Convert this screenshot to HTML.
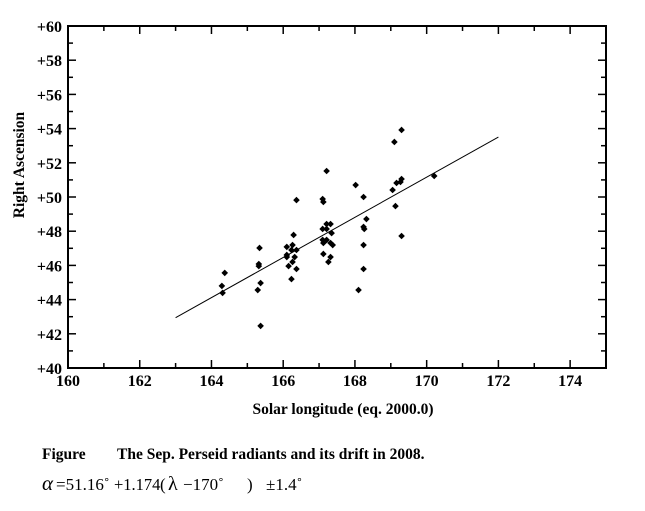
<!DOCTYPE html>
<html><head><meta charset="utf-8"><style>
body{margin:0;background:#fff;width:645px;height:506px;overflow:hidden;font-family:"Liberation Serif",serif}
svg text{font-family:"Liberation Serif",serif;font-weight:bold}
</style></head><body>
<svg id="chart" width="645" height="506" xmlns="http://www.w3.org/2000/svg">
<g id="ticks"></g>
<g id="marks"></g>
<rect x="68" y="26" width="538" height="342" fill="none" stroke="#000" stroke-width="2"/>
<text transform="translate(24,165) rotate(-90)" text-anchor="middle" font-size="15.5">Right Ascension</text>
<text x="343" y="414" text-anchor="middle" font-size="15.5">Solar longitude (eq. 2000.0)</text>
<text x="42" y="459" font-size="15.5">Figure</text>
<text x="117" y="459" font-size="15.5">The Sep. Perseid radiants and its drift in 2008.</text>
<g font-size="17" style="font-weight:normal">
<text x="42" y="490" style="font-weight:normal" font-size="21" font-style="italic">α</text>
<text x="56" y="490" style="font-weight:normal" font-size="17">=51.16˚</text>
<text x="114" y="490" style="font-weight:normal" font-size="16.5">+1.174</text>
<text x="160" y="490" style="font-weight:normal" font-size="17">(</text>
<text x="168" y="490" style="font-weight:normal" font-size="20">λ</text>
<text x="183" y="490" style="font-weight:normal" font-size="17">−170˚</text>
<text x="247" y="490" style="font-weight:normal" font-size="17">)</text>
<text x="266" y="490" style="font-weight:normal" font-size="17">±1.4˚</text>
</g>
</svg>
<script>
const xs=[167.21,168.02,166.37,167.10,167.12,167.21,167.32,167.10,167.21,167.35,167.10,167.21,167.32,167.38,167.12,166.29,166.10,166.26,166.23,166.37,166.10,166.10,166.32,166.26,166.15,166.37,166.23,165.34,165.32,165.32,165.37,165.29,165.37,164.37,164.29,164.31,167.12,167.32,167.26,168.10,169.30,169.10,168.24,169.30,169.27,169.16,169.05,170.21,169.13,168.32,168.24,168.26,168.24,169.30,168.24];
const ys=[51.52,50.70,49.82,49.88,49.71,48.42,48.42,48.13,48.13,47.89,47.49,47.49,47.31,47.19,47.31,47.78,47.08,47.19,46.90,46.90,46.61,46.49,46.49,46.20,45.96,45.79,45.20,47.02,46.08,45.96,44.97,44.56,42.46,45.56,44.80,44.39,46.67,46.49,46.20,44.56,53.92,53.22,50.00,51.05,50.88,50.82,50.41,51.23,49.47,48.71,48.25,48.13,47.19,47.72,45.79];
const xTickLabels=[160,162,164,166,168,170,172,174];
const yTickLabels=[40,42,44,46,48,50,52,54,56,58,60];
const fitIntercept=51.16, fitSlope=1.174, fitRef=170, fitStart=163, fitEnd=172;
const NS="http://www.w3.org/2000/svg";
const X=v=>68+(v-160)*538/15;
const Y=v=>368-(v-40)*342/20;
const T=document.getElementById('ticks'),M=document.getElementById('marks');
function el(t,a,p){const e=document.createElementNS(NS,t);for(const k in a)e.setAttribute(k,a[k]);p.appendChild(e);return e;}
for(let v=161;v<=174;v++){const maj=v%2===0;const l=maj?8:5;
 const t1=el('line',{x1:X(v),x2:X(v),y1:368,y2:368-l,stroke:'#000','stroke-width':1.5},T);
 
 
 const t2=el('line',{x1:X(v),x2:X(v),y1:26,y2:26+l,stroke:'#000','stroke-width':1.5},T);
 
 }
for(let v=41;v<=59;v++){const maj=v%2===0;const l=maj?8:5;
 const t1=el('line',{x1:68,x2:68+l,y1:Y(v),y2:Y(v),stroke:'#000','stroke-width':1.5},T);
 
 
 const t2=el('line',{x1:606,x2:606-l,y1:Y(v),y2:Y(v),stroke:'#000','stroke-width':1.5},T);
 
 }
xTickLabels.forEach(v=>{const t=el('text',{x:X(v),y:386,'text-anchor':'middle','font-size':16},T);t.textContent=v;
 
 });
yTickLabels.forEach(v=>{const t=el('text',{x:62,y:Y(v)+6,'text-anchor':'end','font-size':16},T);t.textContent='+'+v;
 
 });
const f=v=>fitIntercept+fitSlope*(v-fitRef);
const ln=el('line',{x1:X(fitStart),y1:Y(f(fitStart)),x2:X(fitEnd),y2:Y(f(fitEnd)),stroke:'#000','stroke-width':1},M);


xs.forEach((x,i)=>{const cx=X(x),cy=Y(ys[i]);
 const p=el('polygon',{points:`${cx},${cy-3.3} ${cx+3.3},${cy} ${cx},${cy+3.3} ${cx-3.3},${cy}`,fill:'#000'},M);
 
 });
</script>
</body></html>
